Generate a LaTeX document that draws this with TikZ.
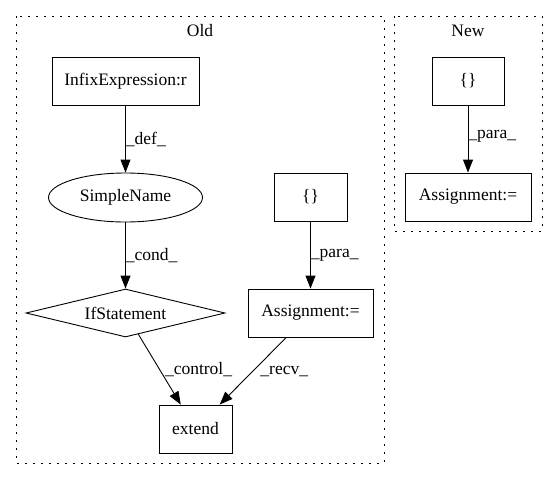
\documentclass[tikz,border=0pt]{standalone}
\usepackage{fontspec}
\setmainfont{Liberation Serif}
\usetikzlibrary{shapes.geometric,arrows.meta}
\begin{document}
\begin{tikzpicture}[x=1pt,y=-1pt,
  every node/.style={font=\fontsize{17.5}{20}\selectfont, inner sep=0pt},
  rbox/.style={draw, line width=0.9pt, rectangle, minimum height=48pt},
  ell/.style={draw, line width=0.9pt, ellipse, minimum width=154pt, minimum height=49pt},
  dia/.style={draw, line width=0.9pt, diamond, aspect=4.1, minimum width=199pt, minimum height=48pt},
  cluster/.style={draw, line width=0.9pt, dash pattern=on 1.8pt off 6.2pt},
  edge/.style={draw, line width=0.9pt, -{Triangle[length=13pt,width=10pt]}},
  elabel/.style={anchor=west}]
\useasboundingbox (0,0) rectangle (557,480);
% clusters
\draw[cluster] (16,16) rectangle (384,463);
\node (oldlbl) at (200,31) {Old};
\draw[cluster] (394,16) rectangle (542,231);
\node (newlbl) at (468,31) {New};
% Old nodes
\node[rbox, minimum width=147pt] (infix) at (125.5,81) {InfixExpression:r};
\node[ell] (simple) at (125.5,197.5) {SimpleName};
\node[dia] (ifst) at (125.5,313) {IfStatement};
\node[rbox, minimum width=73pt] (extend) at (195.5,429) {extend};
\node[rbox, minimum width=73pt] (brold) at (310.5,197) {\{\}};
\node[rbox, minimum width=125pt] (asold) at (310.5,313) {Assignment:=};
% New nodes
\node[rbox, minimum width=72pt] (brnew) at (468,81) {\{\}};
\node[rbox, minimum width=126pt] (asnew) at (468,197) {Assignment:=};
% edges
\draw[edge] (infix) -- node[elabel, pos=0.5] (l1) {\_def\_} (simple);
\draw[edge] (simple) -- node[elabel, pos=0.5] (l2) {\_cond\_} (ifst);
\draw[edge] (ifst) -- node[elabel, pos=0.5, xshift=5pt] (l3) {\_control\_} (extend);
\draw[edge] (brold) -- node[elabel, pos=0.5] (l4) {\_para\_} (asold);
\draw[edge] (asold) -- node[elabel, pos=0.5, xshift=7pt] (l5) {\_recv\_} (extend);
\draw[edge] (brnew) -- node[elabel, pos=0.5, yshift=3pt] (l6) {\_para\_} (asnew);
\end{tikzpicture}
\end{document}
